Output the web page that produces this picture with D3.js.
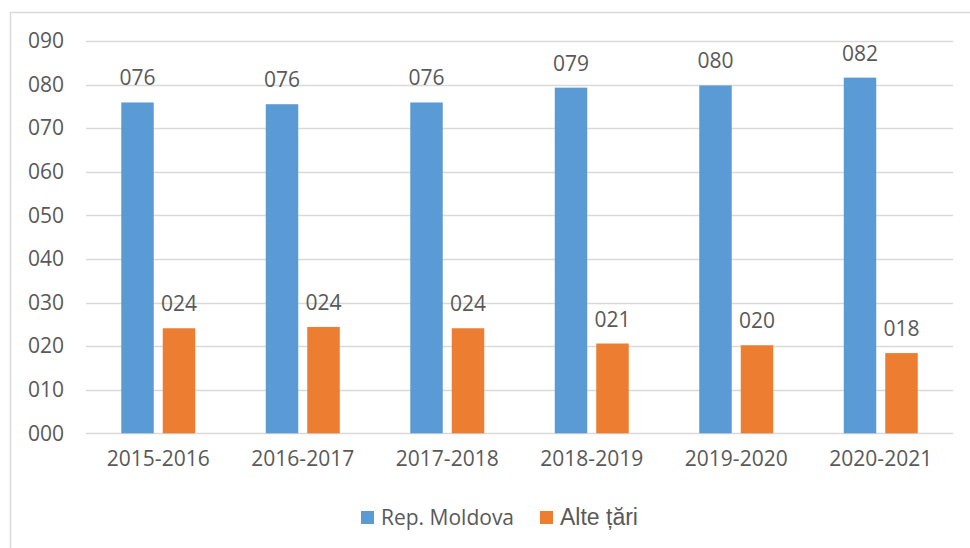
<!DOCTYPE html>
<html>
<head>
<meta charset="utf-8">
<title>Rep. Moldova / Alte tari</title>
<script src="https://d3js.org/d3.v7.min.js"></script>
<style>
  body { margin: 0; background: #fff; }
  text { font-family: "Open Sans", sans-serif; fill: #595959; }
</style>
</head>
<body>
<svg width="970" height="548"></svg>

<script>

// values
var years = ["2015-2016", "2016-2017", "2017-2018", "2018-2019", "2019-2020", "2020-2021"];
var moldova = [75.9, 75.5, 75.9, 79.3, 79.8, 81.6];
var alte = [24.1, 24.4, 24.1, 20.6, 20.2, 18.4];
var seriesNames = ["Rep. Moldova", "Alte țări"];
var colors = ["#5b9bd5", "#ed7d31"];
var yTicks = [0, 10, 20, 30, 40, 50, 60, 70, 80, 90];

var svg = d3.select("svg");

// chart frame (only top / left visible in the window)
svg.append("rect")
  .attr("x", 10.5).attr("y", 12.5)
  .attr("width", 1000).attr("height", 600)
  .attr("fill", "none")
  .attr("stroke", "#d9d9d9")
  .attr("stroke-width", 1.5);

var left = 86, right = 953;

var x0 = d3.scaleBand()
  .domain(years)
  .range([left, right])
  .paddingInner(0.488)
  .paddingOuter(0.244);

var x1 = d3.scaleBand()
  .domain(seriesNames)
  .range([0, x0.bandwidth()])
  .paddingInner(0.217);

var y = d3.scaleLinear()
  .domain([0, 90])
  .range([433.3, 41]);

var fmt = d3.format("03.0f");

// gridlines
svg.append("g").selectAll("line")
  .data(yTicks)
  .enter().append("line")
  .attr("x1", left).attr("x2", right)
  .attr("y1", function(d) { return Math.round(y(d)) + 0.5; })
  .attr("y2", function(d) { return Math.round(y(d)) + 0.5; })
  .attr("stroke", "#d9d9d9")
  .attr("stroke-width", 1.5);

// y axis labels
var yAxis = d3.axisLeft(y)
  .tickValues(yTicks)
  .tickFormat(fmt)
  .tickSize(0)
  .tickPadding(0);

var yg = svg.append("g")
  .attr("transform", "translate(64,0)")
  .call(yAxis);
yg.select(".domain").remove();
yg.selectAll("text")
  .attr("font-family", "Open Sans")
  .attr("font-size", 21)
  .attr("fill", "#595959");

// x axis labels
var xAxis = d3.axisBottom(x0).tickSize(0).tickPadding(0);
var xg = svg.append("g")
  .attr("transform", "translate(0,451)")
  .call(xAxis);
xg.select(".domain").remove();
xg.selectAll("text")
  .attr("font-family", "Open Sans")
  .attr("font-size", 21)
  .attr("fill", "#595959");

// bars
var rows = years.map(function(yr, i) {
  return [
    { year: yr, name: seriesNames[0], value: moldova[i], color: colors[0] },
    { year: yr, name: seriesNames[1], value: alte[i], color: colors[1] }
  ];
});

var groups = svg.append("g").selectAll("g")
  .data(rows)
  .enter().append("g")
  .attr("transform", function(d) { return "translate(" + x0(d[0].year) + ",0)"; });

groups.selectAll("rect")
  .data(function(d) { return d; })
  .enter().append("rect")
  .attr("x", function(d) { return x1(d.name); })
  .attr("y", function(d) { return y(d.value); })
  .attr("width", x1.bandwidth())
  .attr("height", function(d) { return y(0) - y(d.value); })
  .attr("fill", function(d) { return d.color; });

groups.selectAll("text")
  .data(function(d) { return d; })
  .enter().append("text")
  .attr("x", function(d) { return x1(d.name) + x1.bandwidth() / 2; })
  .attr("y", function(d) { return y(d.value) - 17; })
  .attr("text-anchor", "middle")
  .attr("font-size", 21)
  .attr("fill", "#404040")
  .text(function(d) { return fmt(d.value); });

// legend
var leg = svg.append("g");
leg.append("rect")
  .attr("x", 361).attr("y", 511).attr("width", 13).attr("height", 13)
  .attr("fill", colors[0]);
leg.append("text")
  .attr("x", 381).attr("y", 525)
  .attr("font-size", 21)
  .text(seriesNames[0]);
leg.append("rect")
  .attr("x", 540).attr("y", 511).attr("width", 13).attr("height", 13)
  .attr("fill", colors[1]);
leg.append("text")
  .attr("x", 560).attr("y", 525)
  .style("font-family", "'Liberation Sans', Arial, sans-serif")
  .attr("font-size", 23)
  .text(seriesNames[1]);

</script>
</body>
</html>
